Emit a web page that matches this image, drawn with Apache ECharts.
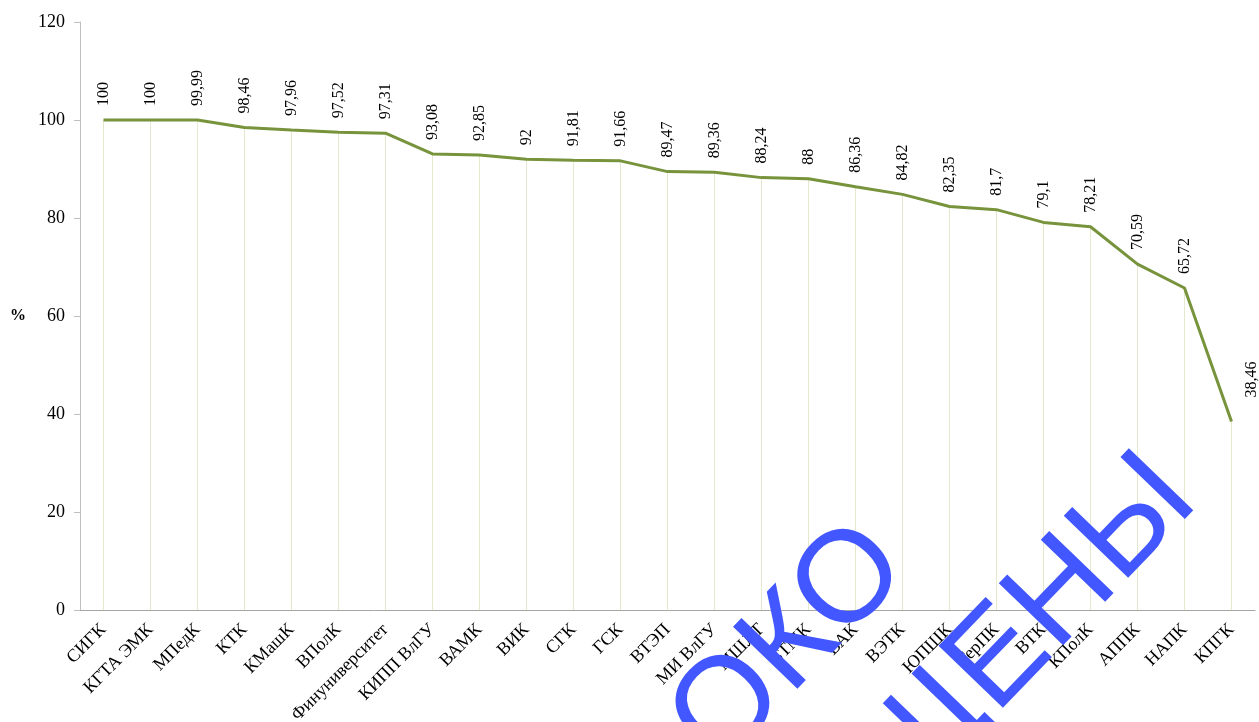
<!DOCTYPE html>
<html>
<head>
<meta charset="utf-8">
<script src="https://cdn.jsdelivr.net/npm/echarts@6/dist/echarts.min.js"></script>
<style>
  html, body { margin: 0; padding: 0; background: #fff; }
  #chart { width: 1259px; height: 722px; }
</style>
</head>
<body>
<div id="chart"></div>
<script>
  // категории и значения (%)
  var colleges = ['СИГК', 'КГТА ЭМК', 'МПедК', 'КТК', 'КМашК', 'ВПолК', 'Финуниверситет', 'КИПП ВлГУ',
    'ВАМК', 'ВИК', 'СГК', 'ГСК', 'ВТЭП', 'МИ ВлГУ', 'МШЛТ', 'ВТМК', 'ВАК', 'ВЭТК', 'ЮПШК', 'ГерПК',
    'ВТК', 'КПолК', 'АППК', 'НАПК', 'КПГК'];
  var percents = [100, 100, 99.99, 98.46, 97.96, 97.52, 97.31, 93.08, 92.85, 92, 91.81, 91.66, 89.47,
    89.36, 88.24, 88, 86.36, 84.82, 82.35, 81.7, 79.1, 78.21, 70.59, 65.72, 38.46];
  var yTicks = [0, 20, 40, 60, 80, 100, 120];

  var serif = '"Liberation Serif", "Times New Roman", serif';

  function fmt(v) { return String(v).replace('.', ','); }

  // у последней точки подпись вынесена вправо, как в оригинале
  // (offset задаётся в повёрнутой системе подписи)
  var dropData = percents.map(function (v, i) {
    if (i === percents.length - 1) {
      return { value: v, label: { offset: [10, 20] } };
    }
    return v;
  });

  var myChart = echarts.init(document.getElementById('chart'));
  myChart.setOption({
    animation: false,
    grid: { left: 80, right: 4, top: 22, bottom: 112, containLabel: false, outerBoundsMode: 'none' },
    xAxis: {
      type: 'category',
      data: colleges,
      boundaryGap: true,
      axisLine: { lineStyle: { color: '#a6a6a6', width: 1 } },
      axisTick: { show: false },
      axisLabel: { interval: 0, rotate: 45, margin: 17, fontFamily: serif, fontSize: 18, color: '#000' }
    },
    yAxis: {
      type: 'value',
      min: yTicks[0],
      max: yTicks[yTicks.length - 1],
      interval: 20,
      name: '%',
      nameLocation: 'middle',
      nameRotate: 0,
      nameGap: 54,
      nameTextStyle: { fontFamily: serif, fontSize: 16, fontWeight: 'bold', color: '#000' },
      axisLine: { show: true, lineStyle: { color: '#bfbfbf', width: 1 } },
      axisTick: { show: true, length: 6, lineStyle: { color: '#bfbfbf' } },
      splitLine: { show: false },
      axisLabel: { margin: 15, fontFamily: serif, fontSize: 18, color: '#000' }
    },
    series: [
      {
        // линии проекции к оси + подписи значений
        type: 'bar',
        data: dropData,
        barWidth: 1,
        silent: true,
        z: 1,
        itemStyle: { color: '#e4e8cc' },
        label: {
          show: true,
          position: 'top',
          distance: 14,
          rotate: 90,
          align: 'left',
          verticalAlign: 'middle',
          fontFamily: serif,
          fontSize: 16,
          color: '#000',
          formatter: function (p) { return fmt(p.value); }
        }
      },
      {
        type: 'line',
        data: percents,
        symbol: 'none',
        z: 3,
        lineStyle: { color: '#77933c', width: 3 }
      }
    ],
    graphic: [
      {
        type: 'text',
        x: 790, y: 645,
        rotation: 46 * Math.PI / 180,
        z: 100,
        style: {
          text: 'ОКО',
          font: '130px "Liberation Sans", Arial, sans-serif',
          fill: '#4257ff',
          textAlign: 'center',
          textVerticalAlign: 'middle'
        }
      },
      {
        type: 'text',
        x: 1030, y: 628,
        rotation: 46 * Math.PI / 180,
        z: 100,
        style: {
          text: 'ЩЕНЫ',
          font: '130px "Liberation Sans", Arial, sans-serif',
          fill: '#4257ff',
          textAlign: 'center',
          textVerticalAlign: 'middle'
        }
      }
    ]
  });
</script>
</body>
</html>
